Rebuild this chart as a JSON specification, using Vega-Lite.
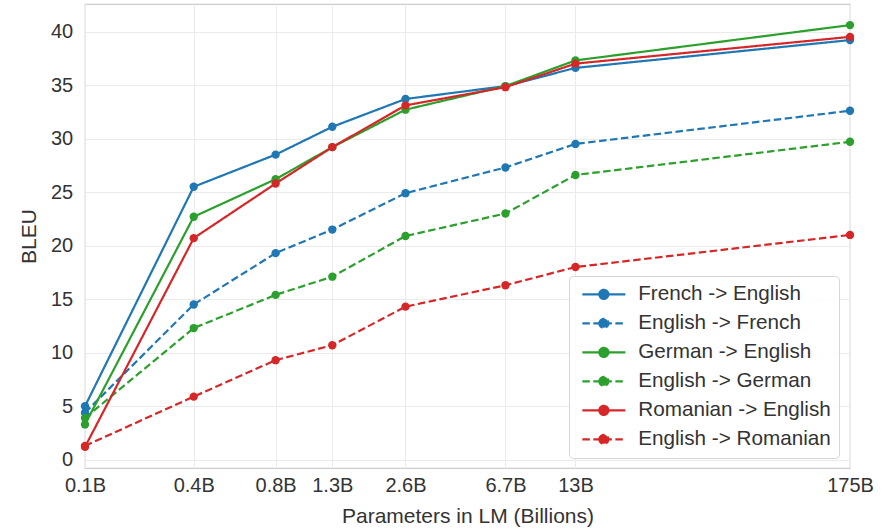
{
  "$schema": "https://vega.github.io/schema/vega-lite/v6.json",
  "width": 765,
  "height": 464,
  "autosize": {"type": "none"},
  "padding": {"left": 85, "top": 4, "right": 39, "bottom": 62},
  "background": "white",
  "config": {
    "font": "Liberation Sans",
    "view": {"stroke": "#cccccc", "strokeWidth": 1.25},
    "axis": {
      "domain": false,
      "ticks": false,
      "gridColor": "#ebebeb",
      "gridWidth": 1,
      "labelFontSize": 20,
      "labelColor": "#333333",
      "titleFontSize": 21,
      "titleFontWeight": "normal",
      "titleColor": "#333333"
    }
  },
  "data": {
    "values": [
      {"series": "French -> English", "params": 0.125, "bleu": 5.0},
      {"series": "French -> English", "params": 0.35, "bleu": 25.5},
      {"series": "French -> English", "params": 0.76, "bleu": 28.5},
      {"series": "French -> English", "params": 1.3, "bleu": 31.1},
      {"series": "French -> English", "params": 2.6, "bleu": 33.7},
      {"series": "French -> English", "params": 6.7, "bleu": 34.9},
      {"series": "French -> English", "params": 13, "bleu": 36.6},
      {"series": "French -> English", "params": 175, "bleu": 39.2},
      {"series": "English -> French", "params": 0.125, "bleu": 4.4},
      {"series": "English -> French", "params": 0.35, "bleu": 14.5},
      {"series": "English -> French", "params": 0.76, "bleu": 19.3},
      {"series": "English -> French", "params": 1.3, "bleu": 21.5},
      {"series": "English -> French", "params": 2.6, "bleu": 24.9},
      {"series": "English -> French", "params": 6.7, "bleu": 27.3},
      {"series": "English -> French", "params": 13, "bleu": 29.5},
      {"series": "English -> French", "params": 175, "bleu": 32.6},
      {"series": "German -> English", "params": 0.125, "bleu": 3.3},
      {"series": "German -> English", "params": 0.35, "bleu": 22.7},
      {"series": "German -> English", "params": 0.76, "bleu": 26.2},
      {"series": "German -> English", "params": 1.3, "bleu": 29.2},
      {"series": "German -> English", "params": 2.6, "bleu": 32.7},
      {"series": "German -> English", "params": 6.7, "bleu": 34.9},
      {"series": "German -> English", "params": 13, "bleu": 37.3},
      {"series": "German -> English", "params": 175, "bleu": 40.6},
      {"series": "English -> German", "params": 0.125, "bleu": 3.9},
      {"series": "English -> German", "params": 0.35, "bleu": 12.3},
      {"series": "English -> German", "params": 0.76, "bleu": 15.4},
      {"series": "English -> German", "params": 1.3, "bleu": 17.1},
      {"series": "English -> German", "params": 2.6, "bleu": 20.9},
      {"series": "English -> German", "params": 6.7, "bleu": 23.0},
      {"series": "English -> German", "params": 13, "bleu": 26.6},
      {"series": "English -> German", "params": 175, "bleu": 29.7},
      {"series": "Romanian -> English", "params": 0.125, "bleu": 1.2},
      {"series": "Romanian -> English", "params": 0.35, "bleu": 20.7},
      {"series": "Romanian -> English", "params": 0.76, "bleu": 25.8},
      {"series": "Romanian -> English", "params": 1.3, "bleu": 29.2},
      {"series": "Romanian -> English", "params": 2.6, "bleu": 33.1},
      {"series": "Romanian -> English", "params": 6.7, "bleu": 34.8},
      {"series": "Romanian -> English", "params": 13, "bleu": 37.0},
      {"series": "Romanian -> English", "params": 175, "bleu": 39.5},
      {"series": "English -> Romanian", "params": 0.125, "bleu": 1.3},
      {"series": "English -> Romanian", "params": 0.35, "bleu": 5.9},
      {"series": "English -> Romanian", "params": 0.76, "bleu": 9.3},
      {"series": "English -> Romanian", "params": 1.3, "bleu": 10.7},
      {"series": "English -> Romanian", "params": 2.6, "bleu": 14.3},
      {"series": "English -> Romanian", "params": 6.7, "bleu": 16.3},
      {"series": "English -> Romanian", "params": 13, "bleu": 18.0},
      {"series": "English -> Romanian", "params": 175, "bleu": 21.0}
    ]
  },
  "mark": {
    "type": "line",
    "strokeWidth": 2.2,
    "point": {"filled": true, "size": 70, "opacity": 1}
  },
  "encoding": {
    "x": {
      "field": "params",
      "type": "quantitative",
      "scale": {"type": "log", "domain": [0.125, 175], "nice": false, "zero": false},
      "axis": {
        "title": "Parameters in LM (Billions)",
        "values": [0.125, 0.35, 0.76, 1.3, 2.6, 6.7, 13, 175],
        "labelExpr": "datum.value == 0.125 ? '0.1B' : datum.value == 0.35 ? '0.4B' : datum.value == 0.76 ? '0.8B' : datum.value + 'B'",
        "labelPadding": 7.5,
        "labelFlush": false,
        "labelOverlap": false,
        "titlePadding": 10
      }
    },
    "y": {
      "field": "bleu",
      "type": "quantitative",
      "scale": {"domain": [-0.77, 42.57], "nice": false, "zero": false},
      "axis": {
        "title": "BLEU",
        "values": [0, 5, 10, 15, 20, 25, 30, 35, 40],
        "labelPadding": 12.3,
        "titlePadding": 11
      }
    },
    "color": {
      "field": "series",
      "type": "nominal",
      "sort": null,
      "scale": {
        "domain": ["French -> English", "English -> French", "German -> English", "English -> German", "Romanian -> English", "English -> Romanian"],
        "range": ["#1f77b4", "#1f77b4", "#2ca02c", "#2ca02c", "#d62728", "#d62728"]
      },
      "legend": {
        "title": null,
        "orient": "none",
        "legendX": 484,
        "legendY": 272,
        "fillColor": "rgba(255,255,255,0.85)",
        "strokeColor": "#d6d6d6",
        "cornerRadius": 4,
        "padding": 8,
        "rowPadding": 7,
        "labelFontSize": 20.7,
        "labelColor": "#333333",
        "labelOffset": 24,
        "labelLimit": 400,
        "symbolType": "M-4.3,0H4.3M-0.9,0A0.9,0.9,0,1,1,0.9,0A0.9,0.9,0,1,1,-0.9,0Z",
        "symbolSize": 100,
        "symbolStrokeWidth": 2.2,
        "symbolOffset": 16.5,
        "encode": {
          "symbols": {"update": {"fill": {"scale": "color", "field": "value"}, "opacity": {"value": 1}}}
        }
      }
    },
    "strokeDash": {
      "field": "series",
      "type": "nominal",
      "sort": null,
      "scale": {
        "domain": ["French -> English", "English -> French", "German -> English", "English -> German", "Romanian -> English", "English -> Romanian"],
        "range": [[1, 0], [7.5, 3.5], [1, 0], [7.5, 3.5], [1, 0], [7.5, 3.5]]
      }
    }
  }
}
